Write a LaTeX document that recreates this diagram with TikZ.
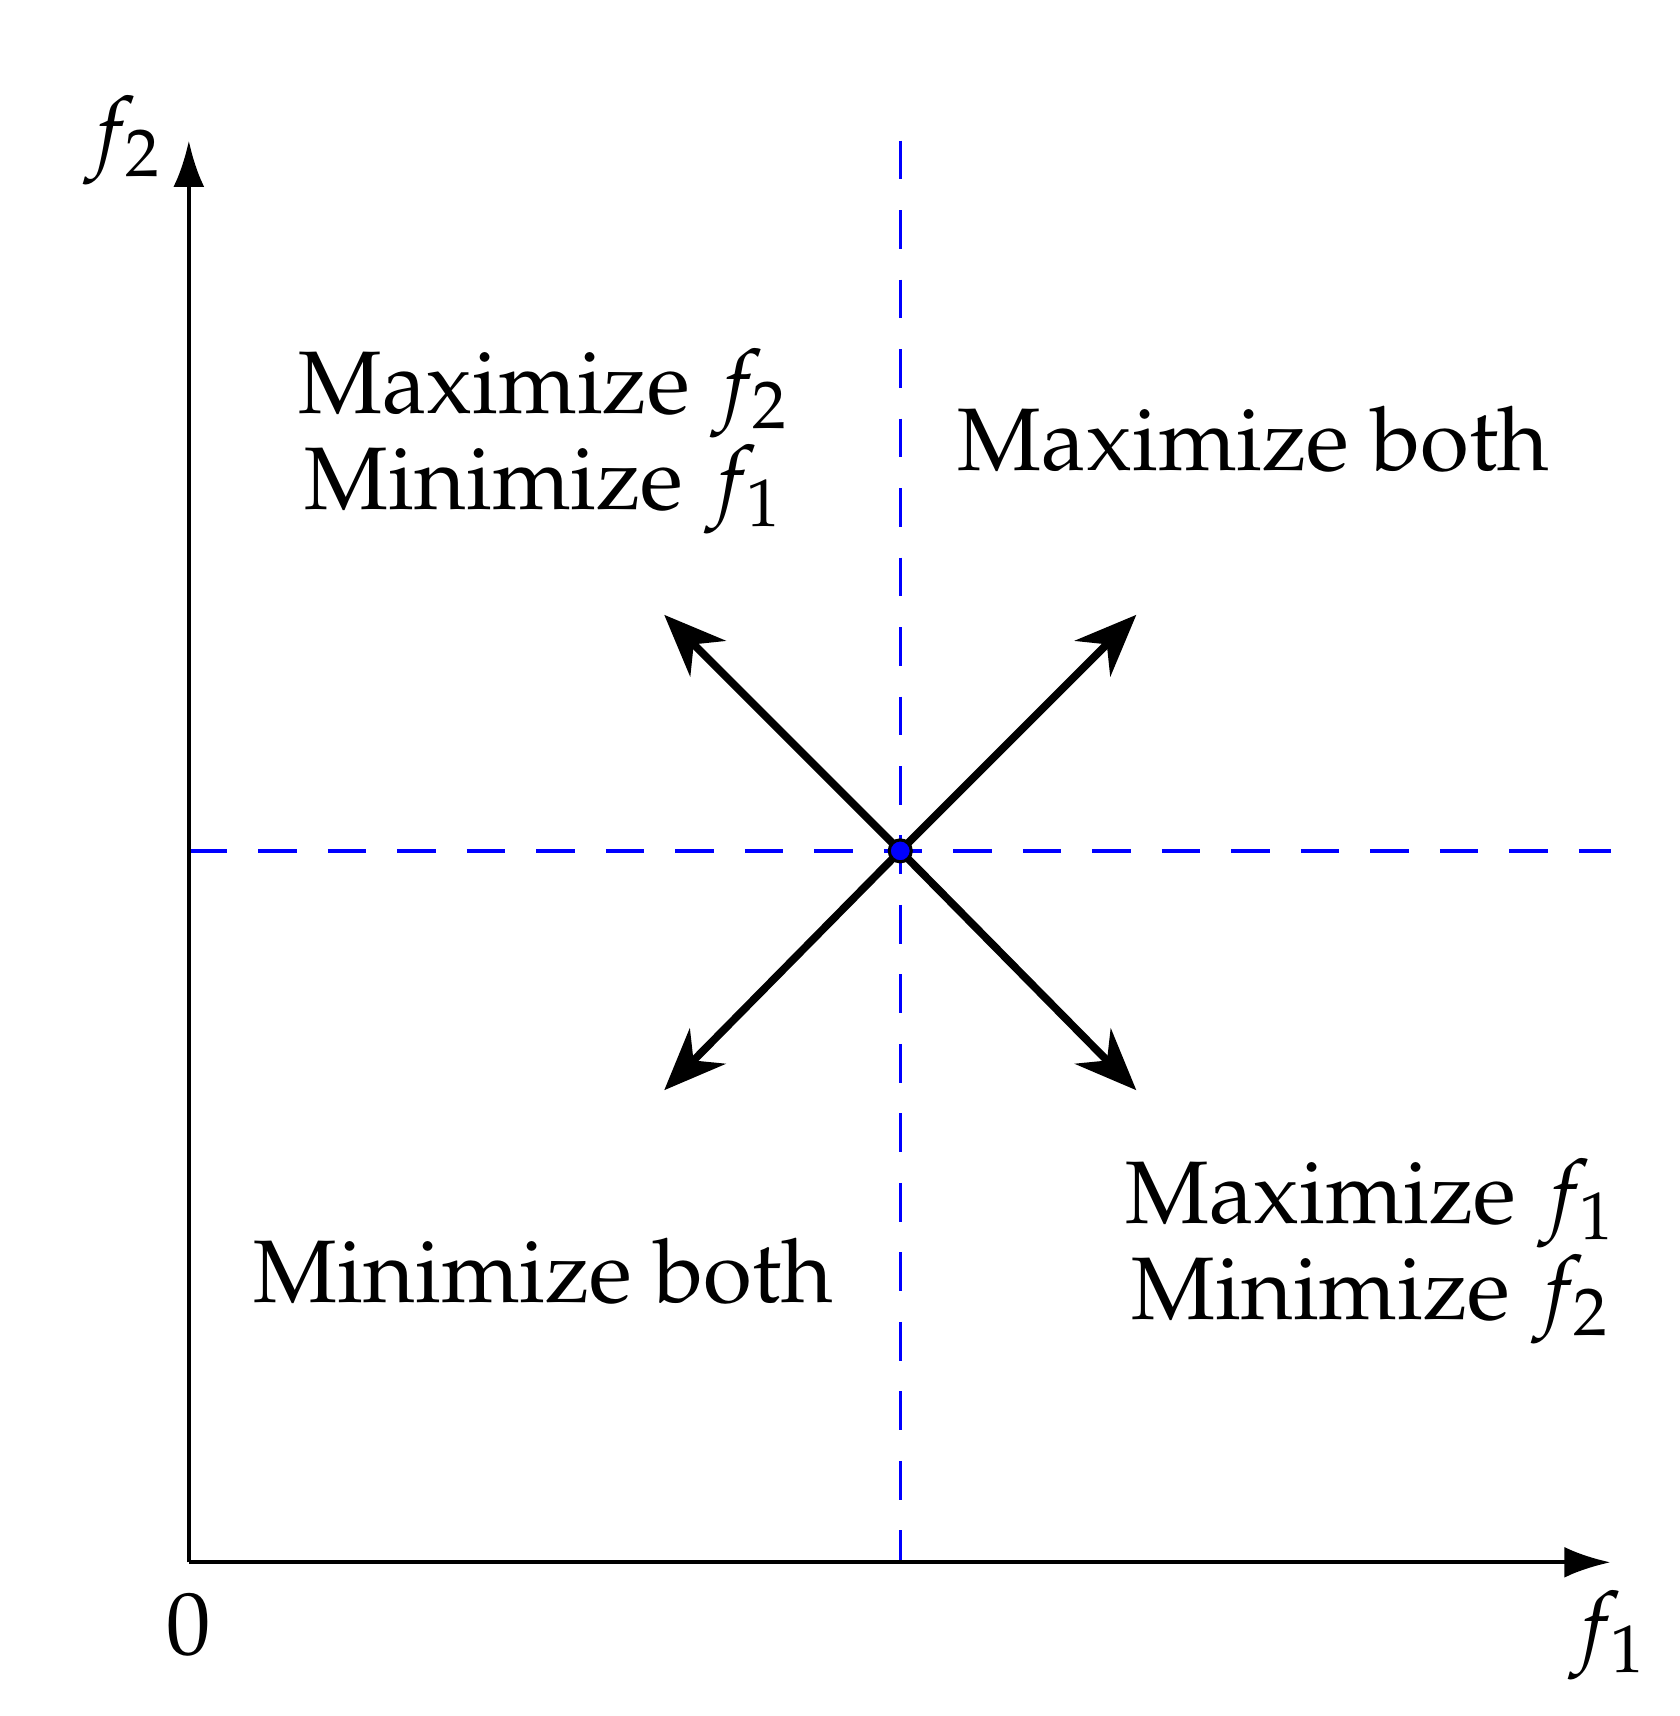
\documentclass[tikz,border=0pt]{standalone}
\usepackage[T1]{fontenc}
\usepackage{mathpazo}
\usetikzlibrary{arrows.meta}
\begin{document}
\begin{tikzpicture}[x=0.01cm,y=-0.01cm,
  lab/.style={font=\fontsize{23}{27}\selectfont,align=center},
  axis/.style={line width=1.1pt,-{Latex[length=12pt,width=8pt]}},
  dir/.style={line width=2pt,-{Stealth[length=16pt,width=13pt]}},
  guide/.style={blue,dashed,line width=0.9pt,dash pattern=on 10pt off 8pt}]
\useasboundingbox (0,0) rectangle (1530,1563);
\coordinate (O) at (172,1423);
\coordinate (xe) at (1467,1423);
\coordinate (ye) at (172,128);
\coordinate (vt) at (820,128);
\coordinate (vb) at (820,1423);
\coordinate (hl) at (172,775);
\coordinate (hr) at (1467,775);
\coordinate (c) at (820,775);
\coordinate (ne) at (1035,560);
\coordinate (nw) at (605,560);
\coordinate (sw) at (605,993);
\coordinate (se) at (1035,993);
\draw[guide] (vt) -- (vb);
\draw[guide] (hl) -- (hr);
\draw[axis] (O) -- (xe);
\draw[axis] (O) -- (ye);
\foreach \t in {ne,nw,sw,se} \draw[dir] (c) -- (\t);
\node[circle,draw=black,fill=blue,inner sep=0pt,minimum size=0.2cm,line width=0.8pt] (pt) at (c) {};
\node[lab] (l1) at (495,402) {Maximize $f_2$\\[-2pt]Minimize $f_1$};
\node[lab] (l2) at (1142,400) {Maximize both};
\node[lab] (l3) at (495,1158) {Minimize both};
\node[lab] (l4) at (1248,1140) {Maximize $f_1$\\[-2pt]Minimize $f_2$};
\node[lab] (yl) at (112,128) {$f_2$};
\node[lab] (xl) at (1465,1490) {$f_1$};
\node[lab] (zl) at (172,1480) {0};
\end{tikzpicture}
\end{document}
